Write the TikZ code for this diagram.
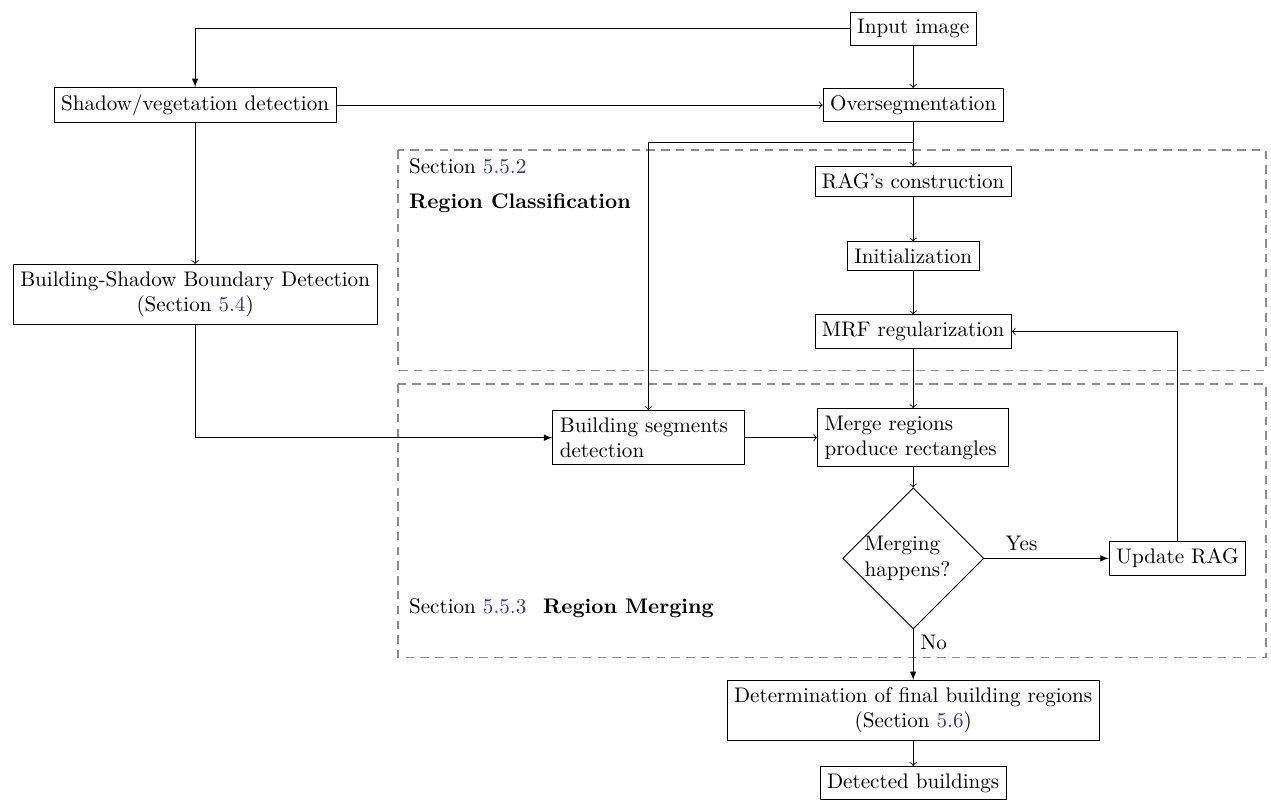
\documentclass[tikz,border=0pt]{standalone}
\usetikzlibrary{shapes.geometric,arrows}

\definecolor{refblue}{rgb}{0.2,0.2,0.55}
\newcommand{\secref}[1]{\textcolor{refblue}{#1}}

\tikzset{
    block/.style={draw, rectangle, align=center},
    textblock/.style={draw, rectangle, text width=2.95cm, align=left},
    decision/.style={draw, diamond, aspect=1, inner sep=0pt, text width=1.62cm, align=left},
    sectionbox/.style={draw=black!45, line width=0.8pt, dash pattern=on 4pt off 3pt}
}

\begin{document}
\begin{tikzpicture}[x=1cm,y=1cm]
    \useasboundingbox (0,0) rectangle (21.17,13.33);

    % Section frames
    \draw[sectionbox] (6.63,10.83) rectangle (21.09,7.16);
    \draw[sectionbox] (6.63,6.93) rectangle (21.09,2.38);
    \node[anchor=west] (secclass) at (6.69,10.56) {Section \secref{5.5.2}};
    \node[anchor=west] (titleclass) at (6.69,9.95) {\textbf{Region Classification}};
    \node[anchor=west] (secmerge) at (6.69,3.20)
        {Section \secref{5.5.3}\hspace{0.8em}\textbf{Region Merging}};

    % Main column
    \node[block] (input) at (15.21,12.85) {Input image};
    \node[block] (overseg) at (15.21,11.58) {Oversegmentation};
    \node[block] (rag) at (15.21,10.31) {RAG's construction};
    \node[block] (init) at (15.21,9.06) {Initialization};
    \node[block] (mrf) at (15.21,7.81) {MRF regularization};
    \node[textblock] (merge) at (15.21,6.04) {Merge regions\\produce rectangles};
    \node[decision] (cond) at (15.21,4.03) {Merging\\happens?};
    \node[block] (update) at (19.61,4.03) {Update RAG};
    \node[block] (final) at (15.21,1.50) {Determination of final building regions\\(Section \secref{5.6})};
    \node[block] (result) at (15.21,0.29) {Detected buildings};

    % Left column
    \node[block] (shadow) at (3.25,11.58) {Shadow/vegetation detection};
    \node[block] (boundary) at (3.25,8.43) {Building-Shadow Boundary Detection\\(Section \secref{5.4})};
    \node[textblock] (segments) at (10.80,6.04) {Building segments\\detection};
    \coordinate (split) at (15.21,10.96);

    % Connectors
    \draw[-latex] (input.west) -| (shadow.north);
    \draw[->] (input) -- (overseg);
    \draw[->] (shadow) -- (overseg);
    \draw[->] (overseg) -- (rag);
    \draw (overseg) -- (split);
    \draw[->] (split) -| (segments.north);
    \draw[->] (rag) -- (init);
    \draw[->] (init) -- (mrf);
    \draw[->] (mrf) -- (merge);
    \draw[->] (shadow) -- (boundary);
    \draw[-latex] (boundary.south) |- (segments.west);
    \draw[->] (segments) -- (merge);
    \draw[->] (merge) -- (cond);
    \draw[-latex] (cond.east) -- node[above, pos=0.3] (yes) {Yes} (update.west);
    \draw[->] (update.north) |- (mrf.east);
    \draw[-latex] (cond.south) -- node[right, pos=0.25] (no) {No} (final.north);
    \draw[->] (final) -- (result);
\end{tikzpicture}
\end{document}
